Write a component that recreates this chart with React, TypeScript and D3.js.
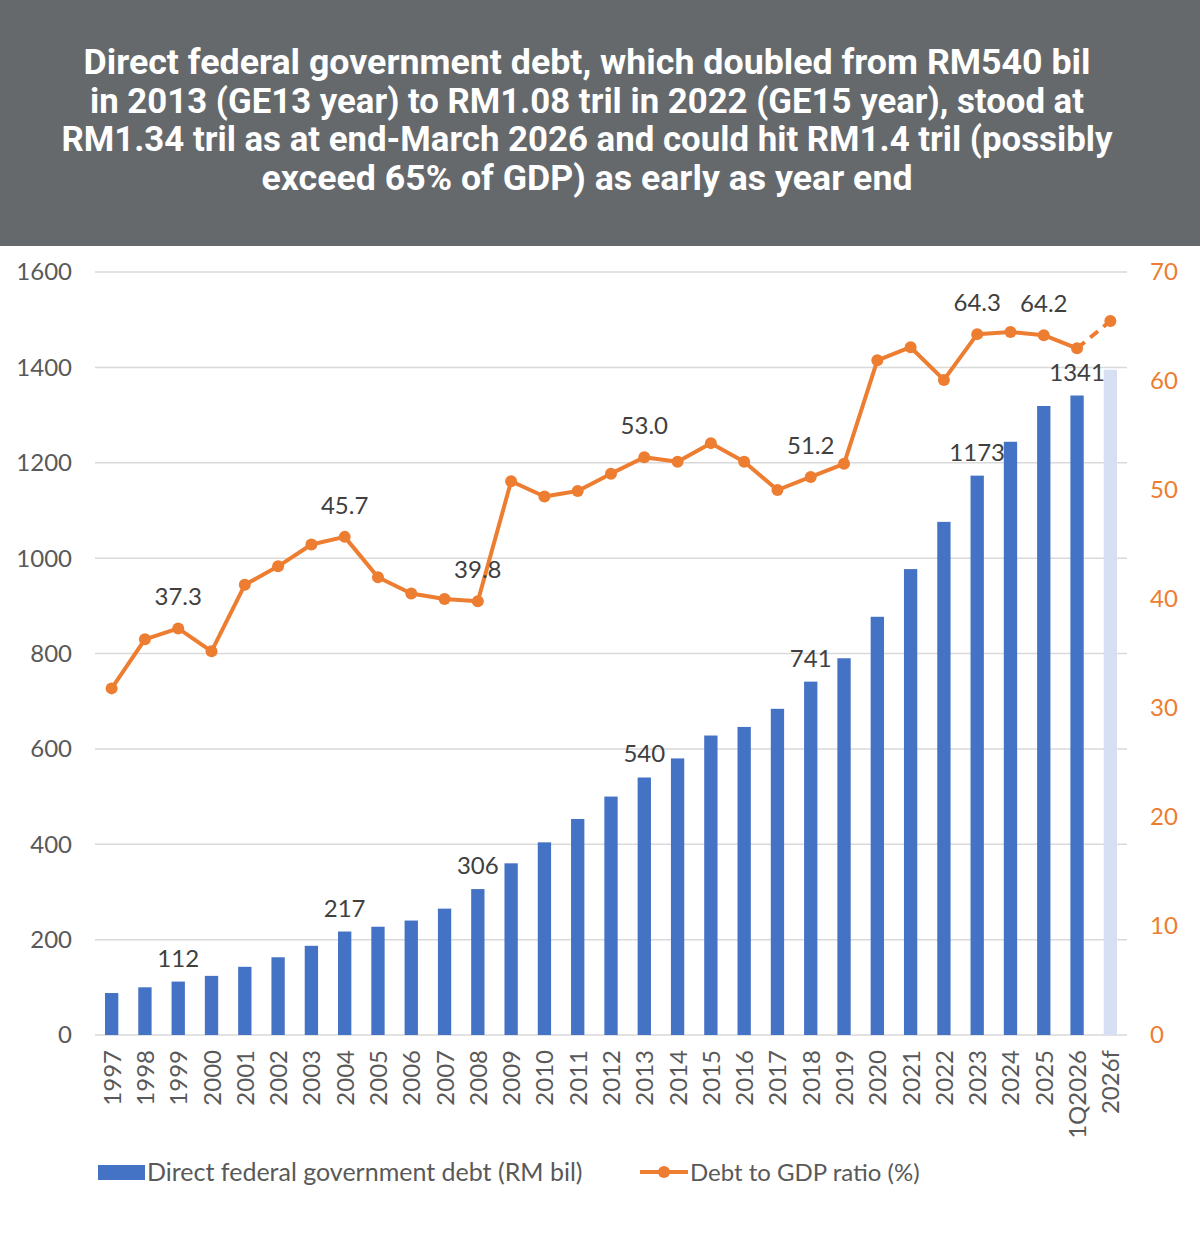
import { useEffect, useRef } from 'react'
import * as d3 from 'd3'

const years = [
  '1997', '1998', '1999', '2000', '2001', '2002', '2003', '2004', '2005', '2006',
  '2007', '2008', '2009', '2010', '2011', '2012', '2013', '2014', '2015', '2016',
  '2017', '2018', '2019', '2020', '2021', '2022', '2023', '2024', '2025', '1Q2026', '2026f',
]

// RM bil
const debt = [
  88, 100, 112, 124, 143, 163, 187, 217, 227, 240,
  265, 306, 360, 404, 453, 500, 540, 580, 628, 646,
  684, 741, 790, 877, 977, 1076, 1173, 1244, 1319, 1341, 1395,
]

// % of GDP
const ratio = [
  31.8, 36.3, 37.3, 35.2, 41.3, 43.0, 45.0, 45.7, 42.0, 40.5,
  40.0, 39.8, 50.8, 49.4, 49.9, 51.5, 53.0, 52.6, 54.3, 52.6,
  50.0, 51.2, 52.4, 61.9, 63.1, 60.1, 64.3, 64.5, 64.2, 63.0, 65.5,
]

const debtLabelled = ['1999', '2004', '2008', '2013', '2018', '2023', '1Q2026']
const ratioLabelled = ['1999', '2004', '2008', '2013', '2018', '2023', '2025']

const leftTicks = [0, 200, 400, 600, 800, 1000, 1200, 1400, 1600]
const rightTicks = [0, 10, 20, 30, 40, 50, 60, 70]

const titleLines = [
  'Direct federal government debt, which doubled from RM540 bil',
  'in 2013 (GE13 year) to RM1.08 tril in 2022 (GE15 year), stood at',
  'RM1.34 tril as at end-March 2026 and could hit RM1.4 tril (possibly',
  'exceed 65% of GDP) as early as year end',
]
const titleWidths = [1007, 994, 1051, 651]

export default function App() {
  const ref = useRef<SVGSVGElement>(null)

  useEffect(() => {
    document.body.style.margin = '0'
    if (!ref.current) return
    const svg = d3.select(ref.current)
    svg.selectAll('*').remove()

    const W = 1200
    const H = 1243
    const font = 'Lato, "Noto Sans", sans-serif'
    const blue = '#4472c4'
    const orange = '#ed7d31'

    svg.append('rect').attr('width', W).attr('height', H).attr('fill', '#fff')

    // header
    svg.append('rect').attr('width', W).attr('height', 246).attr('fill', '#65696c')
    svg.append('g')
      .selectAll('text')
      .data(titleLines)
      .enter()
      .append('text')
      .attr('x', 587)
      .attr('y', (d, i) => 74 + i * 38.7)
      .attr('text-anchor', 'middle')
      .attr('textLength', (d, i) => titleWidths[i])
      .attr('lengthAdjust', 'spacingAndGlyphs')
      .style('font-family', 'Roboto, "Noto Sans", sans-serif')
      .style('font-weight', 700)
      .style('font-size', '35px')
      .style('fill', '#ffffff')
      .text(d => d)

    const x = d3.scaleBand<string>()
      .domain(years)
      .range([95, 1127])
      .paddingInner(0.6)
      .paddingOuter(0.3)
    const yL = d3.scaleLinear().domain([0, 1600]).range([1035, 272])
    const yR = d3.scaleLinear().domain([0, 70]).range([1035, 272])
    const cx = (d: string) => (x(d) as number) + x.bandwidth() / 2

    // grid
    svg.append('g')
      .selectAll('line')
      .data(leftTicks)
      .enter()
      .append('line')
      .attr('x1', 95)
      .attr('x2', 1127)
      .attr('y1', d => yL(d))
      .attr('y2', d => yL(d))
      .attr('stroke', '#d9d9d9')
      .attr('stroke-width', 1.5)

    // left ticks
    svg.append('g')
      .selectAll('text')
      .data(leftTicks)
      .enter()
      .append('text')
      .attr('x', 72)
      .attr('y', d => yL(d))
      .attr('dy', '0.35em')
      .attr('text-anchor', 'end')
      .style('font-family', font)
      .style('font-size', '24px')
      .style('fill', '#595959')
      .text(d => d)

    // right ticks
    svg.append('g')
      .selectAll('text')
      .data(rightTicks)
      .enter()
      .append('text')
      .attr('x', 1150)
      .attr('y', d => yR(d))
      .attr('dy', '0.35em')
      .style('font-family', font)
      .style('font-size', '24px')
      .style('fill', orange)
      .text(d => d)

    // bars
    svg.append('g')
      .selectAll('rect')
      .data(years)
      .enter()
      .append('rect')
      .attr('x', d => x(d) as number)
      .attr('width', x.bandwidth())
      .attr('y', (d, i) => yL(debt[i]))
      .attr('height', (d, i) => yL(0) - yL(debt[i]))
      .attr('fill', d => (d === '2026f' ? '#d7e0f2' : blue))

    // x labels
    svg.append('g')
      .selectAll('text')
      .data(years)
      .enter()
      .append('text')
      .attr('transform', d => `translate(${cx(d) + 9},1050) rotate(-90)`)
      .attr('text-anchor', 'end')
      .style('font-family', font)
      .style('font-size', '24px')
      .style('fill', '#595959')
      .text(d => d)

    // line
    const pts = years.map((d, i) => [cx(d), yR(ratio[i])] as [number, number])
    const line = d3.line()
    svg.append('path')
      .attr('d', line(pts.slice(0, years.length - 1)))
      .attr('fill', 'none')
      .attr('stroke', orange)
      .attr('stroke-width', 4)
      .attr('stroke-linejoin', 'round')
    svg.append('path')
      .attr('d', line(pts.slice(years.length - 2)))
      .attr('fill', 'none')
      .attr('stroke', orange)
      .attr('stroke-width', 4)
      .attr('stroke-dasharray', '10,7')
    svg.append('g')
      .selectAll('circle')
      .data(pts)
      .enter()
      .append('circle')
      .attr('cx', d => d[0])
      .attr('cy', d => d[1])
      .attr('r', 6)
      .attr('fill', orange)

    // data labels
    const labelStyle = (s: d3.Selection<SVGTextElement, string, SVGGElement, unknown>) =>
      s.attr('text-anchor', 'middle')
        .style('font-family', font)
        .style('font-size', '24px')
        .style('fill', '#404040')

    svg.append('g')
      .selectAll('text')
      .data(debtLabelled)
      .enter()
      .append('text')
      .attr('x', d => cx(d))
      .attr('y', d => yL(debt[years.indexOf(d)]) - 15)
      .call(labelStyle)
      .text(d => debt[years.indexOf(d)])

    svg.append('g')
      .selectAll('text')
      .data(ratioLabelled)
      .enter()
      .append('text')
      .attr('x', d => cx(d))
      .attr('y', d => yR(ratio[years.indexOf(d)]) - 23)
      .call(labelStyle)
      .text(d => ratio[years.indexOf(d)].toFixed(1))

    // legend
    const lg = svg.append('g')
    lg.append('rect').attr('x', 98).attr('y', 1165).attr('width', 47).attr('height', 15).attr('fill', blue)
    lg.append('text')
      .attr('x', 147)
      .attr('y', 1181)
      .style('font-family', font)
      .style('font-size', '25px')
      .style('fill', '#595959')
      .text('Direct federal government debt (RM bil)')
    lg.append('line')
      .attr('x1', 640).attr('x2', 688).attr('y1', 1172).attr('y2', 1172)
      .attr('stroke', orange).attr('stroke-width', 4)
    lg.append('circle').attr('cx', 664).attr('cy', 1172).attr('r', 6).attr('fill', orange)
    lg.append('text')
      .attr('x', 690)
      .attr('y', 1181)
      .style('font-family', font)
      .style('font-size', '24px')
      .style('fill', '#595959')
      .text('Debt to GDP ratio (%)')
  }, [])

  return <svg ref={ref} width="1200" height="1243" style={{ display: 'block' }}></svg>
}
